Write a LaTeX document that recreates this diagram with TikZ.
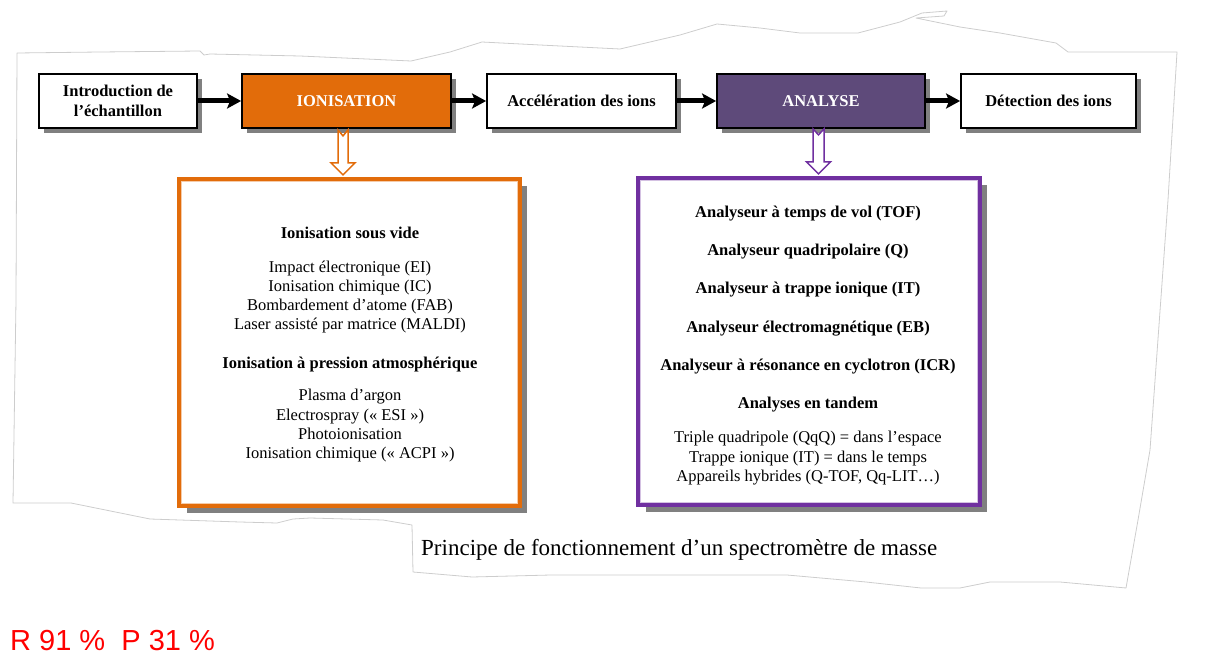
\documentclass[tikz,border=0pt]{standalone}
\usepackage{fontspec}
\setmainfont{Liberation Serif}
\setsansfont{Liberation Sans}
\usetikzlibrary{arrows.meta,shadows,calc}
\definecolor{ionorange}{RGB}{226,108,10}
\definecolor{anapurple}{RGB}{94,74,122}
\definecolor{framepurple}{RGB}{112,48,160}
\definecolor{shadowgray}{RGB}{128,128,128}
\definecolor{edgegray}{RGB}{205,205,205}
\tikzset{
  topbox/.style={draw=black, line width=1.8pt, minimum height=54pt, inner sep=0pt,
    align=center, font=\bfseries\fontsize{16.5}{20}\selectfont,
    drop shadow={shadow xshift=5pt, shadow yshift=-5pt, fill=shadowgray, opacity=1}},
  bigbox/.style={line width=4.5pt, fill=white, inner sep=0pt,
    drop shadow={shadow xshift=7pt, shadow yshift=-7pt, fill=shadowgray, opacity=1}},
  conn/.style={line width=5pt, -{Stealth[length=14pt,width=15pt,inset=3pt]}},
  hollow/.style={line width=1.5pt, fill=white, line join=miter},
  txt/.style={anchor=base, inner sep=0pt, font=\fontsize{16.5}{19}\selectfont},
  torn/.style={draw=edgegray, line width=0.8pt, line join=round}
}
\begin{document}
\begin{tikzpicture}[x=1pt,y=-1pt]
\useasboundingbox (0,0) rectangle (1232,658);
% torn paper outline
\draw[torn] (17,53) -- (100,52) -- (200,51) -- (204,55) -- (210,54) -- (300,56) -- (411,61)
  -- (450,52) -- (482,42) -- (540,45) -- (620,49) -- (680,35) -- (717,24) -- (760,28)
  -- (800,33) -- (858,33) -- (900,22) -- (922,13) -- (947,11) -- (944,16) -- (916,18)
  -- (960,27) -- (1000,33) -- (1056,43) -- (1068,52) -- (1177,52) -- (1168,200)
  -- (1150,450) -- (1138,520) -- (1126,588) -- (1060,582) -- (990,582) -- (960,588)
  -- (921,588) -- (866,582) -- (787,575) -- (551,575) -- (472,577) -- (413,572)
  -- (412,525) -- (383,520) -- (310,518) -- (293,519) -- (277,523) -- (240,522)
  -- (150,519) -- (71,503) -- (13,503) -- (16,300) -- cycle;

% top row
\node[topbox, fill=white, minimum width=158pt] (intro) at (118,101) {Introduction de\\l’échantillon};
\node[topbox, fill=ionorange, text=white, minimum width=209pt] (ion) at (346.5,101) {IONISATION};
\node[topbox, fill=white, minimum width=189pt] (accel) at (581.5,101) {Accélération des ions};
\node[topbox, fill=anapurple, text=white, minimum width=208pt] (ana) at (821,101) {ANALYSE};
\node[topbox, fill=white, minimum width=175pt] (detect) at (1048.5,101) {Détection des ions};

\draw[conn] (intro.east) -- (ion.west);
\draw[conn] (ion.east) -- (accel.west);
\draw[conn] (accel.east) -- (ana.west);
\draw[conn] (ana.east) -- (detect.west);

% lower boxes
\node[bigbox, draw=ionorange, minimum width=340pt, minimum height=326pt] (obox) at (349.5,342.5) {};
\node[bigbox, draw=framepurple, minimum width=341pt, minimum height=326pt] (pbox) at (809,341.5) {};
\draw[ionorange!35, line width=0.8pt] ($(obox.north west)+(4.5,4.5)$) rectangle ($(obox.south east)+(-4.5,-4.5)$);
\draw[framepurple!30, line width=0.8pt] ($(pbox.north west)+(4.5,4.5)$) rectangle ($(pbox.south east)+(-4.5,-4.5)$);

% hollow arrows
\begin{scope}[shift={($(ion.south)+(-3.5,0)$)}]
  \draw[hollow, draw=ionorange] (-5,1) -- (0,7) -- (5,1) -- (5,34) -- (12,34) -- (0,46)
    -- (-12,34) -- (-5,34) -- cycle;
\end{scope}
\begin{scope}[shift={($(ana.south)+(-2.5,0)$)}]
  \draw[hollow, draw=framepurple] (-5.5,0) -- (0,6) -- (5.5,0) -- (5.5,33) -- (12,33) -- (0,45)
    -- (-12,33) -- (-5.5,33) -- cycle;
\end{scope}

% orange box text
\foreach \b/\y/\t [count=\i] in {
  1/238/{Ionisation sous vide},
  0/272/{Impact électronique (EI)},
  0/291/{Ionisation chimique (IC)},
  0/310/{Bombardement d’atome (FAB)},
  0/329/{Laser assisté par matrice (MALDI)},
  1/368/{Ionisation à pression atmosphérique},
  0/400/{Plasma d’argon},
  0/420/{Electrospray (« ESI »)},
  0/439/{Photoionisation},
  0/458/{Ionisation chimique (« ACPI »)}}
  \node[txt] (o\i) at (350,\y) {\ifnum\b=1 \bfseries\fi\t};

% purple box text
\foreach \b/\y/\t [count=\i] in {
  1/218/{Analyseur à temps de vol (TOF)},
  1/255/{Analyseur quadripolaire (Q)},
  1/293/{Analyseur à trappe ionique (IT)},
  1/332/{Analyseur électromagnétique (EB)},
  1/370/{Analyseur à résonance en cyclotron (ICR)},
  1/408/{Analyses en tandem},
  0/442/{Triple quadripole (QqQ) = dans l’espace},
  0/462/{Trappe ionique (IT) = dans le temps},
  0/481/{Appareils hybrides (Q-TOF, Qq-LIT…)}}
  \node[txt] (p\i) at (808,\y) {\ifnum\b=1 \bfseries\fi\t};

% caption
\node[anchor=base west, inner sep=0pt, font=\fontsize{23}{27}\selectfont] (cap) at (421,555)
  {Principe de fonctionnement d’un spectromètre de masse};
% score
\node[anchor=base west, inner sep=0pt, text=red, font=\sffamily\fontsize{29}{33}\selectfont] (score) at (10,650)
  {R 91 \%~~P 31 \%};
\end{tikzpicture}
\end{document}
